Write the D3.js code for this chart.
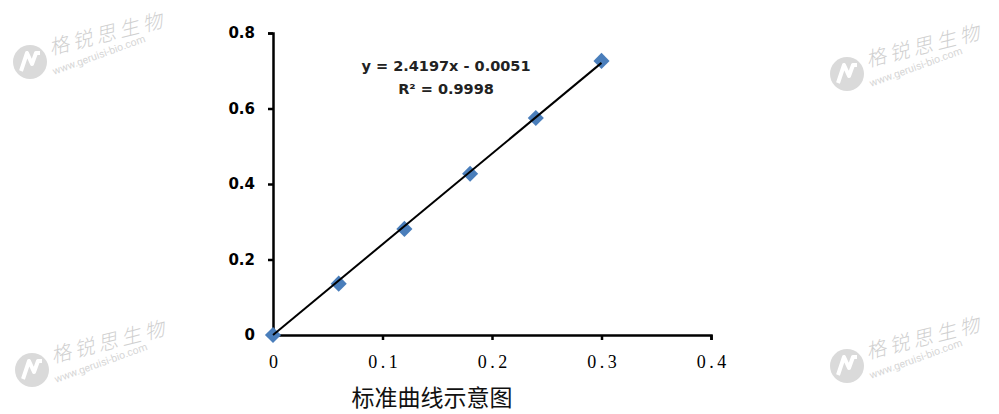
<!DOCTYPE html>
<html>
<head>
<meta charset="utf-8">
<script src="https://cdn.jsdelivr.net/npm/d3@7"></script>
<style>
  body { margin: 0; background: #fff; }
  svg { display: block; }
</style>
</head>
<body>
<svg id="chart"></svg>
<script>
// data
const concentrations = [0, 0.06, 0.12, 0.18, 0.24, 0.3];
const absorbances = [0, 0.136, 0.281, 0.427, 0.575, 0.726];
const slope = 2.4197;
const intercept = -0.0051;
const equationText = 'y = 2.4197x - 0.0051';
const r2Text = 'R² = 0.9998';
const xTicks = [0, 0.1, 0.2, 0.3, 0.4];
const yTicks = [0, 0.2, 0.4, 0.6, 0.8];
const chartTitle = '标准曲线示意图';
const brandName = '格锐思生物';
const brandSite = 'www.geruisi-bio.com';

const width = 999;
const height = 414;

const svg = d3.select('#chart')
  .attr('width', width)
  .attr('height', height);

// faint watermarks in the four corners
const marks = [
  { x: 30, y: 62 },
  { x: 847, y: 74 },
  { x: 32, y: 370 },
  { x: 847, y: 366 }
];
const wm = svg.append('g').attr('class', 'watermarks');
marks.forEach(m => {
  const g = wm.append('g').attr('transform', `translate(${m.x},${m.y})`);
  g.append('circle').attr('r', 17).attr('fill', '#dadada');
  g.append('path')
    .attr('d', 'M-9,9 L-3,-9 L2,2 L6,-9 L10,-9')
    .attr('fill', 'none')
    .attr('stroke', '#fff')
    .attr('stroke-width', 4)
    .attr('stroke-linejoin', 'round');
  g.append('text')
    .attr('transform', 'translate(21,-7) rotate(-14)')
    .attr('font-family', '"Noto Sans CJK SC", sans-serif')
    .attr('font-size', 20)
    .attr('font-weight', 300)
    .attr('font-style', 'italic')
    .attr('letter-spacing', 4)
    .attr('fill', '#d0d0d0')
    .text(brandName);
  g.append('text')
    .attr('transform', 'translate(24,13) rotate(-20)')
    .attr('font-family', 'Roboto, sans-serif')
    .attr('font-size', 10.5)
    .attr('fill', '#d6d6d6')
    .text(brandSite);
});

const x = d3.scaleLinear().domain([0, 0.4]).range([273, 711]);
const y = d3.scaleLinear().domain([0, 0.8]).range([335, 33]);

// x axis
const xAxis = svg.append('g')
  .attr('transform', `translate(0,${y(0)})`)
  .call(d3.axisBottom(x).tickValues(xTicks).tickSizeOuter(0).tickSize(5).tickPadding(15)
    .tickFormat(d => d === 0 ? '0' : d3.format('.1f')(d)));
xAxis.select('.domain').attr('stroke', '#000').attr('stroke-width', 2.5);
xAxis.selectAll('.tick line').attr('stroke', '#000').attr('stroke-width', 2.5);
xAxis.selectAll('.tick text')
  .attr('font-family', '"Liberation Serif", serif')
  .attr('font-size', 18)
  .attr('letter-spacing', 3.5)
  .attr('dx', 1.75)
  .attr('fill', '#000');

// y axis
const yAxis = svg.append('g')
  .attr('transform', `translate(${x(0)},0)`)
  .call(d3.axisLeft(y).tickValues(yTicks).tickSizeOuter(0).tickSize(5).tickPadding(13)
    .tickFormat(d => d === 0 ? '0' : d3.format('.1f')(d)));
yAxis.select('.domain').attr('stroke', '#000').attr('stroke-width', 2.5);
yAxis.selectAll('.tick line').attr('stroke', '#000').attr('stroke-width', 2.5);
yAxis.selectAll('.tick text')
  .attr('font-family', '"DejaVu Sans", sans-serif')
  .attr('font-weight', 'bold')
  .attr('font-size', 15)
  .attr('fill', '#000');

// markers
svg.append('g')
  .selectAll('path')
  .data(concentrations)
  .join('path')
  .attr('transform', (d, i) => `translate(${x(d)},${y(absorbances[i])}) rotate(45)`)
  .attr('d', d3.symbol().type(d3.symbolSquare).size(130))
  .attr('fill', '#4a7ebb');

// linear trendline
const xMin = d3.min(concentrations);
const xMax = d3.max(concentrations);
svg.append('line')
  .attr('x1', x(xMin))
  .attr('y1', y(Math.max(0, slope * xMin + intercept)))
  .attr('x2', x(xMax))
  .attr('y2', y(slope * xMax + intercept))
  .attr('stroke', '#000')
  .attr('stroke-width', 2);

// equation label
const eq = svg.append('text')
  .attr('text-anchor', 'middle')
  .attr('font-family', '"DejaVu Sans", sans-serif')
  .attr('font-weight', 'bold')
  .attr('font-size', 14.5)
  .attr('fill', '#222');
eq.append('tspan').attr('x', 446).attr('y', 71).text(equationText);
eq.append('tspan').attr('x', 446).attr('y', 94).text(r2Text);

// title under the chart
svg.append('text')
  .attr('x', 432)
  .attr('y', 406)
  .attr('text-anchor', 'middle')
  .attr('font-family', '"Noto Sans CJK SC", sans-serif')
  .attr('font-size', 23)
  .attr('fill', '#111')
  .text(chartTitle);
</script>
</body>
</html>
